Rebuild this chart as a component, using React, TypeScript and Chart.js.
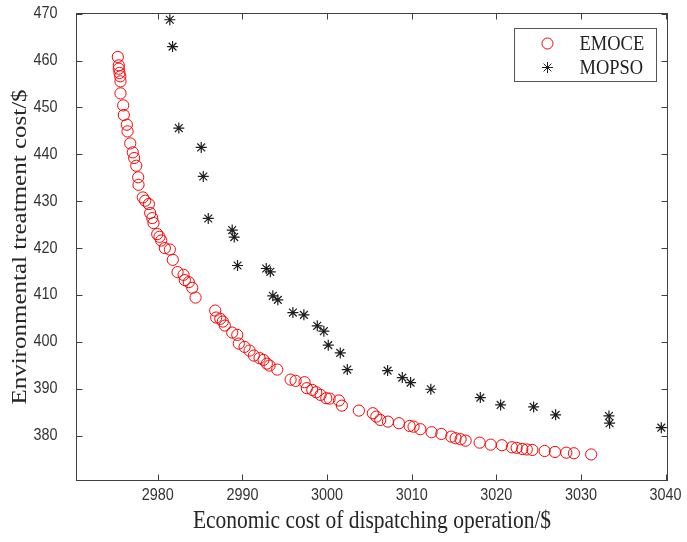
import React, { useEffect, useRef } from 'react';
import { Chart, registerables } from 'chart.js';

Chart.register(...registerables);

// ---------- data ----------
const seriesNames = ['EMOCE', 'MOPSO'];

const emoceX = [
  2975.27, 2975.39, 2975.39, 2975.47, 2975.56, 2975.59, 2975.59, 2975.91, 2975.98, 2976.34,
  2976.42, 2976.74, 2977.04, 2977.21, 2977.45, 2977.68, 2977.72, 2978.23, 2978.51, 2978.94,
  2979.10, 2979.34, 2979.49, 2979.93, 2980.20, 2980.40, 2980.83, 2981.42, 2981.77, 2982.33,
  2983.04, 2983.19, 2983.66, 2984.07, 2984.46, 2986.78, 2986.90, 2987.38, 2987.68, 2987.92,
  2988.79, 2989.39, 2989.57, 2990.25, 2990.84, 2991.35, 2992.02, 2992.49, 2992.88, 2993.20,
  2994.11, 2995.69, 2996.28, 2997.34, 2997.61, 2998.25, 2998.72, 2999.23, 2999.91, 3000.30,
  3001.40, 3001.75, 3003.76, 3005.41, 3005.82, 3006.29, 3007.19, 3008.49, 3009.75, 3010.22,
  3011.02, 3012.35, 3013.50, 3014.68, 3015.19, 3015.78, 3016.37, 3018.03, 3019.33, 3020.66,
  3021.84, 3022.40, 3023.07, 3023.60, 3024.26, 3025.71, 3026.93, 3028.27, 3029.17, 3031.21,
];
const emoceY = [
  460.77, 458.98, 458.27, 457.35, 456.63, 455.56, 453.00, 450.44, 448.39, 446.32,
  444.89, 442.33, 440.41, 439.21, 437.57, 435.10, 433.50, 430.80, 430.10, 429.39,
  427.47, 426.40, 425.34, 422.99, 422.41, 421.62, 420.00, 419.70, 417.50, 414.88,
  414.30, 413.17, 412.74, 411.53, 409.46, 406.68, 405.19, 404.91, 404.33, 403.48,
  401.98, 401.49, 399.64, 398.93, 398.14, 397.08, 396.52, 396.16, 395.37, 394.94,
  394.09, 391.95, 391.68, 391.40, 390.12, 389.75, 389.26, 388.69, 387.98, 387.90,
  387.50, 386.40, 385.34, 384.78, 384.06, 383.35, 382.99, 382.65, 382.07, 381.92,
  381.37, 380.73, 380.36, 379.79, 379.45, 379.23, 378.93, 378.51, 378.08, 377.95,
  377.52, 377.40, 377.16, 377.05, 376.95, 376.73, 376.52, 376.37, 376.24, 375.99,
];

const mopsoX = [
  2981.42, 2981.74, 2982.48, 2985.13, 2985.37, 2985.96, 2988.79, 2989.03, 2989.42, 2992.81,
  2993.29, 2993.59, 2994.18, 2995.96, 2997.26, 2998.84, 2999.62, 3000.14, 3001.56, 3002.39,
  3007.15, 3008.89, 3009.87, 3012.26, 3018.11, 3020.51, 3024.41, 3027.01, 3033.31, 3033.39,
  3039.50,
];
const mopsoY = [
  468.70, 462.97, 445.60, 441.47, 435.28, 426.32, 423.84, 422.35, 416.29, 415.65,
  414.94, 409.82, 408.96, 406.25, 405.76, 403.42, 402.28, 399.30, 397.65, 394.09,
  393.87, 392.38, 391.31, 389.90, 388.11, 386.55, 386.13, 384.43, 384.20, 382.65,
  381.71,
];

const xTicks = [2980, 2990, 3000, 3010, 3020, 3030, 3040];
const yTicks = [380, 390, 400, 410, 420, 430, 440, 450, 460, 470];
const xRange = [2970.33, 3040.17];
const yRange = [370.54, 470.14];
const xTitle = 'Economic cost of dispatching operation/$';
const yTitle = 'Environmental treatment cost/$';

// ---------- styles ----------
const AXIS = '#404040';
const RED = '#ff0000';
const STAR = '#1e1e1e';
const SERIF = '"Liberation Serif", "Times New Roman", serif';
const SANS = '"Liberation Sans", Arial, sans-serif';

function squeezedText(ctx: any, text: string, x: number, y: number, sx: number, rot = 0) {
  ctx.save();
  ctx.translate(x, y);
  if (rot) ctx.rotate(rot);
  ctx.scale(sx, 1);
  ctx.fillText(text, 0, 0);
  ctx.restore();
}

const framePlugin = {
  id: 'matlabFrame',
  afterDatasetsDraw(chart: any) {
    const { ctx, chartArea, scales } = chart;
    const { left, right, top, bottom } = chartArea;
    const L = Math.round(left) + 0.5;
    const R = Math.round(right) + 0.5;
    const T = Math.round(top) + 0.5;
    const B = Math.round(bottom) + 0.5;
    ctx.save();
    ctx.strokeStyle = AXIS;
    ctx.lineWidth = 1;
    ctx.strokeRect(L, T, R - L, B - T);
    const tl = 6;
    ctx.beginPath();
    scales.x.ticks.forEach((t: any) => {
      const px = Math.round(scales.x.getPixelForValue(t.value)) + 0.5;
      ctx.moveTo(px, B);
      ctx.lineTo(px, B - tl);
      ctx.moveTo(px, T);
      ctx.lineTo(px, T + tl);
    });
    scales.y.ticks.forEach((t: any) => {
      const py = Math.round(scales.y.getPixelForValue(t.value)) + 0.5;
      ctx.moveTo(L, py);
      ctx.lineTo(L + tl, py);
      ctx.moveTo(R, py);
      ctx.lineTo(R - tl, py);
    });
    ctx.stroke();

    // tick labels
    ctx.fillStyle = '#333';
    ctx.font = `16px ${SANS}`;
    ctx.textBaseline = 'middle';
    ctx.textAlign = 'center';
    scales.x.ticks.forEach((t: any) => {
      squeezedText(ctx, String(t.value), scales.x.getPixelForValue(t.value), B + 15, 0.9);
    });
    ctx.textAlign = 'right';
    scales.y.ticks.forEach((t: any) => {
      squeezedText(ctx, String(t.value), L - 19, scales.y.getPixelForValue(t.value), 0.9);
    });

    // axis titles
    ctx.fillStyle = '#262626';
    ctx.font = `25px ${SERIF}`;
    ctx.textAlign = 'center';
    ctx.textBaseline = 'middle';
    squeezedText(ctx, xTitle, (L + R) / 2, 521, 0.86);
    ctx.save();
    ctx.translate(20, (T + B) / 2);
    ctx.rotate(-Math.PI / 2);
    ctx.scale(1, 0.86);
    ctx.fillText(yTitle, 0, 0);
    ctx.restore();

    // legend box
    const bw = 142;
    const bh = 53;
    const bx = Math.round(R - 12 - bw) + 0.5;
    const by = Math.round(T + 14) + 0.5;
    ctx.fillStyle = '#ffffff';
    ctx.fillRect(bx, by, bw, bh);
    ctx.strokeStyle = '#555';
    ctx.strokeRect(bx, by, bw, bh);
    const mx = bx + 33;
    const rows = [by + 15, by + 39];
    ctx.strokeStyle = RED;
    ctx.beginPath();
    ctx.arc(mx, rows[0], 5.5, 0, Math.PI * 2);
    ctx.stroke();
    ctx.strokeStyle = STAR;
    ctx.beginPath();
    const r = 5.5;
    for (let k = 0; k < 4; k++) {
      const a = (k * Math.PI) / 4;
      ctx.moveTo(mx - Math.sin(a) * r, rows[1] - Math.cos(a) * r);
      ctx.lineTo(mx + Math.sin(a) * r, rows[1] + Math.cos(a) * r);
    }
    ctx.stroke();
    ctx.fillStyle = '#222';
    ctx.font = `21px ${SERIF}`;
    ctx.textBaseline = 'middle';
    ctx.textAlign = 'left';
    squeezedText(ctx, seriesNames[0], bx + 65, rows[0] + 1, 0.88);
    squeezedText(ctx, seriesNames[1], bx + 65, rows[1] + 1, 0.88);
    ctx.restore();
  },
};

export default function App() {
  const ref = useRef<HTMLCanvasElement | null>(null);

  useEffect(() => {
    document.body.style.margin = '0';
    const canvas = ref.current;
    if (!canvas) return;
    const chart = new Chart(canvas, {
      type: 'scatter',
      data: {
        datasets: [
          {
            label: seriesNames[0],
            data: emoceX.map((x, i) => ({ x, y: emoceY[i] })),
            pointStyle: 'circle',
            pointRadius: 5.6,
            pointBorderWidth: 1,
            borderColor: RED,
            pointBorderColor: RED,
            backgroundColor: 'rgba(0,0,0,0)',
            pointBackgroundColor: 'rgba(0,0,0,0)',
          },
          {
            label: seriesNames[1],
            data: mopsoX.map((x, i) => ({ x, y: mopsoY[i] })),
            pointStyle: 'star',
            pointRadius: 5.5,
            pointBorderWidth: 1.2,
            borderColor: STAR,
            pointBorderColor: STAR,
            backgroundColor: STAR,
          },
        ],
      },
      options: {
        responsive: false,
        animation: false,
        devicePixelRatio: 1,
        layout: { padding: { top: 13, right: 20, left: 0, bottom: 0 } },
        plugins: {
          legend: { display: false },
          tooltip: { enabled: false },
        },
        scales: {
          x: {
            type: 'linear',
            min: xRange[0],
            max: xRange[1],
            afterBuildTicks: (s: any) => {
              s.ticks = xTicks.map((v) => ({ value: v }));
            },
            afterFit: (s: any) => {
              s.height = 62;
              s.paddingLeft = 0;
              s.paddingRight = 0;
            },
            grid: { display: false, drawTicks: false },
            border: { display: false },
            ticks: { display: false },
            title: { display: false },
          },
          y: {
            type: 'linear',
            min: yRange[0],
            max: yRange[1],
            afterBuildTicks: (s: any) => {
              s.ticks = yTicks.map((v) => ({ value: v }));
            },
            afterFit: (s: any) => {
              s.width = 76;
              s.paddingTop = 0;
              s.paddingBottom = 0;
            },
            grid: { display: false, drawTicks: false },
            border: { display: false },
            ticks: { display: false },
            title: { display: false },
          },
        },
      },
      plugins: [framePlugin],
    });
    return () => chart.destroy();
  }, []);

  return (
    <div style={{ width: 687, height: 542, background: '#fff' }}>
      <canvas ref={ref} width={687} height={542} style={{ display: 'block' }} />
    </div>
  );
}
